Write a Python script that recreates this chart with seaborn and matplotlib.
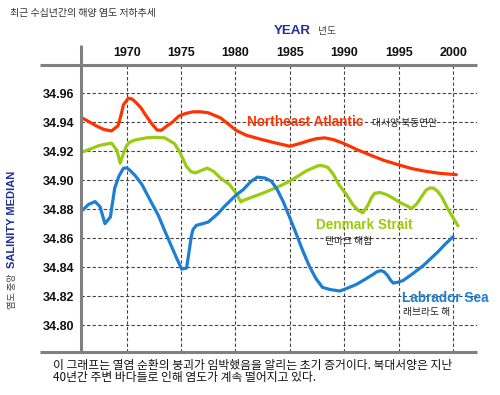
import numpy as np
import pandas as pd
import matplotlib
matplotlib.use("Agg")
import matplotlib.pyplot as plt
from matplotlib.lines import Line2D
import seaborn as sns

# values
ne_year = [1965.9, 1966.5, 1967.2, 1967.9, 1968.6, 1969.2, 1969.45, 1969.7, 1970.15,
           1970.5, 1970.9, 1971.3, 1971.8, 1972.3, 1972.8, 1973.2, 1973.7, 1974.2,
           1974.8, 1975.4, 1976.1, 1976.8, 1977.5, 1978.6, 1979.3, 1980.1, 1981.0,
           1982.2, 1983.5, 1985.0, 1986.0, 1986.8, 1987.5, 1988.2, 1989.0, 1990.0,
           1991.2, 1992.4, 1993.7, 1995.0, 1996.2, 1997.5, 1998.8, 2000.3]
ne_sal = [34.943, 34.9405, 34.9375, 34.935, 34.934, 34.9375, 34.944, 34.952, 34.9566,
          34.956, 34.9533, 34.950, 34.9443, 34.939, 34.9346, 34.9345, 34.9375, 34.940,
          34.9443, 34.946, 34.9472, 34.9472, 34.9465, 34.9431, 34.939, 34.9342, 34.931,
          34.9285, 34.926, 34.9234, 34.9255, 34.9274, 34.9287, 34.9292, 34.928, 34.9252,
          34.921, 34.9173, 34.9135, 34.9106, 34.908, 34.9061, 34.9047, 34.9038]

dk_year = [1966.0, 1967.5, 1968.6, 1969.1, 1969.4, 1969.7, 1970.0, 1970.3, 1970.8,
           1971.8, 1972.6, 1973.5, 1974.4, 1974.9, 1975.5, 1975.9, 1976.3, 1976.8,
           1977.4, 1978.0, 1978.6, 1979.45, 1980.06, 1980.5, 1980.7, 1982.5, 1983.8,
           1985.0, 1986.0, 1986.5, 1987.6, 1988.0, 1988.5, 1989.0, 1989.5, 1990.2,
           1990.8, 1991.3, 1991.7, 1992.2, 1992.5, 1992.8, 1993.3, 1993.9, 1994.5,
           1995.1, 1995.7, 1996.2, 1996.7, 1997.1, 1997.5, 1997.85, 1998.2, 1998.6,
           1999.0, 1999.5, 2000.45]
dk_sal = [34.9196, 34.924, 34.9256, 34.9207, 34.9117, 34.9184, 34.924, 34.9263, 34.9278,
          34.9292, 34.9296, 34.9292, 34.9252, 34.919, 34.9094, 34.906, 34.905, 34.9065,
          34.9083, 34.906, 34.9016, 34.897, 34.891, 34.885, 34.886, 34.891, 34.895,
          34.8993, 34.904, 34.9064, 34.910, 34.910, 34.9088, 34.904, 34.897, 34.890,
          34.883, 34.879, 34.8775, 34.883, 34.888, 34.891, 34.8915, 34.890, 34.8875,
          34.8846, 34.8825, 34.8804, 34.884, 34.8886, 34.893, 34.8946, 34.8945, 34.8922,
          34.888, 34.8804, 34.8685]

lb_year = [1965.95, 1966.5, 1967.1, 1967.55, 1968.0, 1968.5, 1968.9, 1969.3, 1969.7,
           1970.0, 1970.3, 1970.8, 1971.4, 1972.1, 1972.9, 1973.5, 1974.1, 1974.6,
           1975.05, 1975.5, 1975.7, 1975.95, 1976.1, 1976.4, 1977.0, 1977.5, 1978.4,
           1979.0, 1979.5, 1980.1, 1980.7, 1981.4, 1982.0, 1982.7, 1983.3, 1983.8,
           1984.4, 1985.0, 1985.6, 1986.2, 1986.8, 1987.4, 1988.0, 1988.7, 1989.6,
           1990.3, 1991.1, 1991.9, 1992.65, 1993.0, 1993.4, 1993.7, 1994.0, 1994.25,
           1994.5, 1994.9, 1995.4, 1996.3, 1997.3, 1998.6, 1999.3, 2000.0]
lb_sal = [34.8793, 34.8833, 34.8852, 34.8817, 34.870, 34.8746, 34.8946, 34.903, 34.9082,
          34.9085, 34.9068, 34.903, 34.897, 34.887, 34.8758, 34.865, 34.8546, 34.846,
          34.8386, 34.8393, 34.849, 34.8617, 34.866, 34.8688, 34.870, 34.8711, 34.877,
          34.882, 34.8857, 34.890, 34.8934, 34.899, 34.9021, 34.9015, 34.8993, 34.894,
          34.885, 34.874, 34.8626, 34.851, 34.8405, 34.832, 34.826, 34.8245, 34.8235,
          34.8255, 34.828, 34.8315, 34.835, 34.8368, 34.8376, 34.8365, 34.834, 34.831,
          34.829, 34.8295, 34.8307, 34.8355, 34.8413, 34.8505, 34.856, 34.861]

series = ["Northeast Atlantic", "Denmark Strait", "Labrador Sea"]
series_ko = ["대서양 북동연안", "덴마크 해협", "래브라도 해"]
colors = {"Northeast Atlantic": "#ff3300", "Denmark Strait": "#99cc11",
          "Labrador Sea": "#1e7fd2"}
x_ticks = [1970, 1975, 1980, 1985, 1990, 1995, 2000]
y_ticks = [34.80, 34.82, 34.84, 34.86, 34.88, 34.90, 34.92, 34.94, 34.96]

df = pd.concat([
    pd.DataFrame({"year": ne_year, "salinity": ne_sal, "series": series[0]}),
    pd.DataFrame({"year": dk_year, "salinity": dk_sal, "series": series[1]}),
    pd.DataFrame({"year": lb_year, "salinity": lb_sal, "series": series[2]}),
])

sns.set_style("white")
plt.rcParams["font.family"] = ["Liberation Sans", "Noto Sans CJK KR"]
plt.rcParams["lines.solid_joinstyle"] = "round"
plt.rcParams["lines.solid_capstyle"] = "round"
KO = ["Noto Sans CJK KR", "DejaVu Sans"]

W, H = 500, 395
fig = plt.figure(figsize=(W / 100, H / 100), dpi=100)


def fx(px):
    return px / W


def fy(py):
    return 1 - py / H


ax = fig.add_axes([fx(81), fy(352), fx(477) - fx(81), fy(65) - fy(352)])

sns.lineplot(data=df, x="year", y="salinity", hue="series", palette=colors,
             estimator=None, sort=False, linewidth=2.3, legend=False, ax=ax)

ax.set_xlim(1965.8, 2002.2)
ax.set_ylim(34.7814, 34.9795)
ax.set_xticks(x_ticks)
ax.set_yticks(y_ticks)
ax.set_yticklabels([f"{v:.2f}" for v in y_ticks])
ax.xaxis.tick_top()
ax.tick_params(axis="both", length=0, labelsize=9, labelcolor="#111111")
ax.tick_params(axis="x", pad=4)
ax.tick_params(axis="y", pad=5)
for lab in ax.get_xticklabels() + ax.get_yticklabels():
    lab.set_fontweight("bold")
ax.set_xlabel("")
ax.set_ylabel("")
ax.grid(True, color="#444444", linestyle=(0, (3, 2)), linewidth=0.8)
for sp in ax.spines.values():
    sp.set_visible(False)

# frame lines that run past the plot area
frame = "#808080"
for xs, ys in [((40, 477), (65, 65)), ((81, 81), (45, 352)), ((40, 477), (352, 352))]:
    fig.add_artist(Line2D([fx(xs[0]), fx(xs[1])], [fy(ys[0]), fy(ys[1])],
                          color=frame, linewidth=2.2, solid_capstyle="butt"))

# titles and labels
fig.text(fx(10), fy(13), "최근 수십년간의 해양 염도 저하추세", family=KO,
         fontsize=7.2, color="#333333", va="center", ha="left")
fig.text(fx(274), fy(30.5), "YEAR", fontsize=9.6, fontweight="bold",
         color="#1f2f99", va="center", ha="left")
fig.text(fx(318), fy(31), "년도", family=KO, fontsize=7, color="#444444",
         va="center", ha="left")
fig.text(fx(12.5), fy(219.5), "SALINITY MEDIAN", fontsize=8, fontweight="bold",
         color="#1f2f99", rotation=90, va="center", ha="center")
fig.text(fx(12), fy(291), "염도 중앙", family=KO, fontsize=6.6, color="#444444",
         rotation=90, va="center", ha="center")

label_pos = [(246.7, 122, 371.7, 123), (316, 225, 325, 240.7), (401.7, 298.3, 403, 311.7)]
for name, ko, (x1, y1, x2, y2) in zip(series, series_ko, label_pos):
    fig.text(fx(x1), fy(y1), name, fontsize=9.8, fontweight="bold",
             color=colors[name], va="center", ha="left")
    fig.text(fx(x2), fy(y2), ko, family=KO, fontsize=7, color="#222222",
             va="center", ha="left")

fig.text(fx(52.7), fy(365), "이 그래프는 열염 순환의 붕괴가 임박했음을 알리는 초기 증거이다. 북대서양은 지난",
         family=KO, fontsize=8.5, color="#111111", va="center", ha="left")
fig.text(fx(52.7), fy(377), "40년간 주변 바다들로 인해 염도가 계속 떨어지고 있다.",
         family=KO, fontsize=8.5, color="#111111", va="center", ha="left")

fig.savefig("out.png", dpi=100, facecolor="white")
